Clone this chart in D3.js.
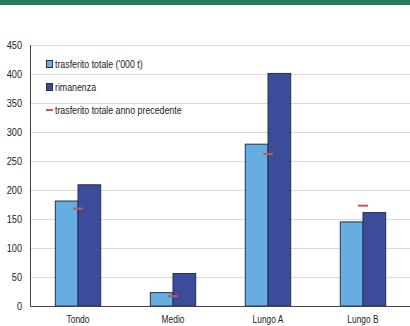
<!DOCTYPE html>
<html>
<head>
<meta charset="utf-8">
<script src="https://cdn.jsdelivr.net/npm/d3@7"></script>
<style>
  html, body { margin: 0; padding: 0; background: #fff; }
  svg { display: block; }
  text { font-family: "Liberation Sans", Arial, sans-serif; fill: #222; }
</style>
</head>
<body>
<svg id="chart" width="410" height="326"></svg>
<script>
// Categories and series
const categories = ["Tondo", "Medio", "Lungo A", "Lungo B"];
const trasferitoTotale = [181, 23, 279, 145];
const rimanenza = [209, 56, 401, 161];
const trasferitoAnnoPrecedente = [168, 17, 262, 173];
const yTicks = [0, 50, 100, 150, 200, 250, 300, 350, 400, 450];
const seriesNames = ["trasferito totale ('000 t)", "rimanenza", "trasferito totale anno precedente"];

(function () {
  const W = 410;
  const plotL = 30.5, plotR = 410.5, plotT = 45, plotB = 306;
  const colLight = "#66aee2", colDark = "#3b4c9b", colOutline = "#24304f", colRed = "#c85a55";
  const narrow = 0.8; // horizontal squeeze for a narrow typeface look

  const svg = d3.select("#chart");

  // header band
  svg.append("rect").attr("x", 0).attr("y", 0).attr("width", W).attr("height", 5).attr("fill", "#237a5f");

  const x = d3.scaleBand().domain(categories).range([plotL, plotR]).paddingInner(0).paddingOuter(0);
  const y = d3.scaleLinear().domain([0, 450]).range([plotB, plotT]);
  const groupW = x.bandwidth() * 0.478;
  const xi = d3.scaleBand().domain(["t", "r"]).range([0, groupW]);

  // gridlines
  svg.append("g").selectAll("line").data(yTicks.filter(d => d > 0)).join("line")
    .attr("x1", plotL).attr("x2", W)
    .attr("y1", d => Math.round(y(d)) + 0.5).attr("y2", d => Math.round(y(d)) + 0.5)
    .attr("stroke", "#d9d9d9").attr("stroke-width", 1);

  // y axis labels
  const yAxis = d3.axisLeft(y).tickValues(yTicks).tickSize(0).tickPadding(8);
  const gy = svg.append("g").attr("transform", `translate(${plotL},0)`).call(yAxis);
  gy.select(".domain").remove();
  gy.selectAll("text")
    .attr("font-size", 11.5).attr("fill", "#222")
    .attr("x", -8.5 / narrow).attr("transform", `scale(${narrow},1)`)
    .style("font-family", "'Liberation Sans', Arial, sans-serif");

  // bars
  const groups = svg.append("g").selectAll("g").data(categories).join("g")
    .attr("transform", d => `translate(${x(d) + (x.bandwidth() - groupW) / 2},0)`);

  groups.append("rect")
    .attr("x", xi("t")).attr("width", xi.bandwidth())
    .attr("y", (d, i) => y(trasferitoTotale[i])).attr("height", (d, i) => y(0) - y(trasferitoTotale[i]))
    .attr("fill", colLight).attr("stroke", colOutline).attr("stroke-width", 1);

  groups.append("rect")
    .attr("x", xi("r")).attr("width", xi.bandwidth())
    .attr("y", (d, i) => y(rimanenza[i])).attr("height", (d, i) => y(0) - y(rimanenza[i]))
    .attr("fill", colDark).attr("stroke", colOutline).attr("stroke-width", 1);

  // previous-year markers
  groups.append("line")
    .attr("x1", groupW / 2 - 5).attr("x2", groupW / 2 + 5)
    .attr("y1", (d, i) => y(trasferitoAnnoPrecedente[i])).attr("y2", (d, i) => y(trasferitoAnnoPrecedente[i]))
    .attr("stroke", colRed).attr("stroke-width", 2);

  // axis lines
  svg.append("line").attr("x1", plotL).attr("x2", plotL).attr("y1", plotT).attr("y2", plotB + 0.5)
    .attr("stroke", "#444").attr("stroke-width", 1);
  svg.append("line").attr("x1", plotL).attr("x2", W).attr("y1", plotB + 0.5).attr("y2", plotB + 0.5)
    .attr("stroke", "#444").attr("stroke-width", 1);

  // x axis labels
  const xAxis = d3.axisBottom(x).tickSize(0).tickPadding(0);
  const gx = svg.append("g").attr("transform", `translate(0,${plotB})`).call(xAxis);
  gx.select(".domain").remove();
  gx.selectAll("text")
    .attr("font-size", 10.5).attr("fill", "#222")
    .attr("y", 17.5).attr("dy", 0)
    .attr("transform", `scale(${narrow},1)`)
    .style("font-family", "'Liberation Sans', Arial, sans-serif");

  // legend
  const legY = [64, 87, 110];
  const leg = svg.append("g").selectAll("g").data(seriesNames).join("g")
    .attr("transform", (d, i) => `translate(46,${legY[i]})`);
  leg.filter((d, i) => i < 2).append("rect")
    .attr("x", 0.5).attr("y", -3.5).attr("width", 6).attr("height", 7)
    .attr("fill", (d) => d === seriesNames[0] ? colLight : colDark).attr("stroke", colOutline);
  leg.filter((d, i) => i === 2).append("line")
    .attr("x1", 0).attr("x2", 7).attr("y1", 0).attr("y2", 0)
    .attr("stroke", colRed).attr("stroke-width", 2);
  leg.append("text").attr("x", 9 / narrow).attr("y", 0).attr("dy", "0.35em")
    .attr("transform", `scale(${narrow},1)`)
    .attr("font-size", 11).attr("fill", "#333").text(d => d);
})();
</script>
</body>
</html>
